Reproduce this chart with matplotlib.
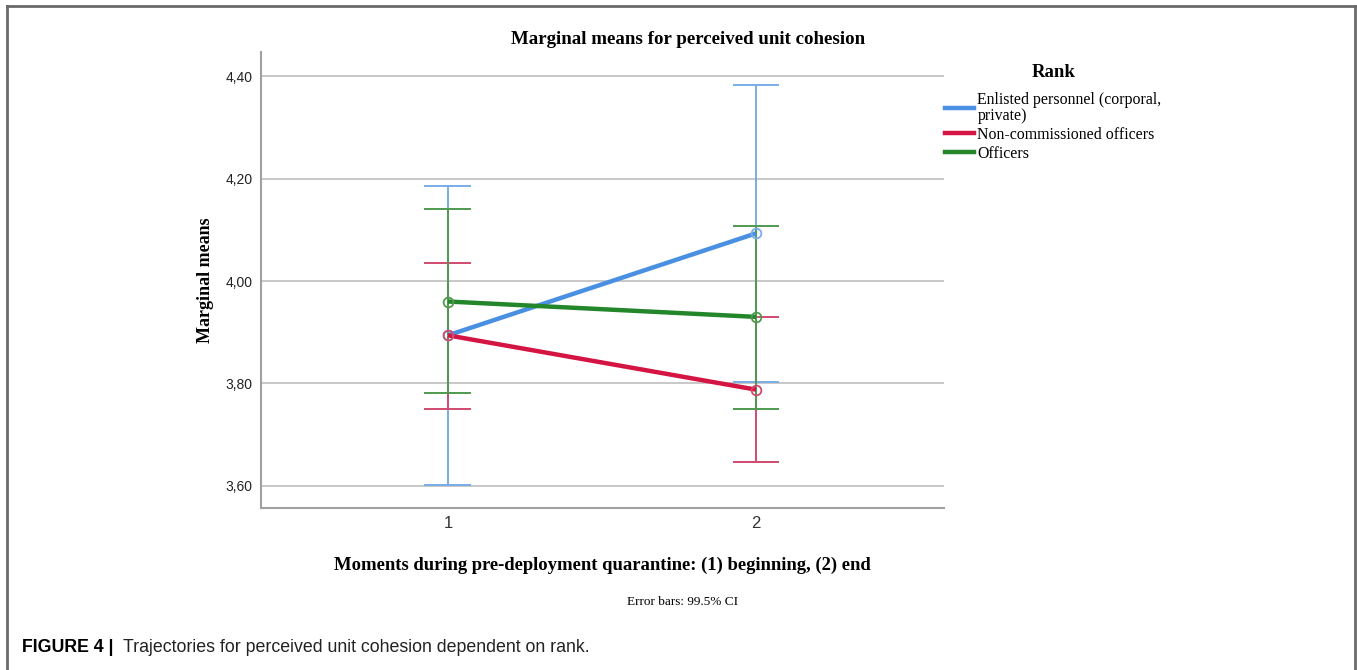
import matplotlib
matplotlib.use("Agg")
import matplotlib.pyplot as plt
from matplotlib.lines import Line2D

# data
moments = [1, 2]
groups = ["Enlisted personnel (corporal,\nprivate)", "Non-commissioned officers", "Officers"]
enlisted_mean = [3.894, 4.093]
enlisted_lo = [3.602, 3.803]
enlisted_hi = [4.186, 4.382]
nco_mean = [3.894, 3.788]
nco_lo = [3.751, 3.647]
nco_hi = [4.035, 3.929]
officers_mean = [3.960, 3.930]
officers_lo = [3.781, 3.751]
officers_hi = [4.140, 4.107]
yticks = [3.60, 3.80, 4.00, 4.20, 4.40]

line_cols = ["#4a90e2", "#d41443", "#23862a"]
bar_cols = ["#79ade6", "#cf4a6e", "#4f9a4f"]

fig = plt.figure(figsize=(13.57, 6.70), dpi=100)
ax = fig.add_axes([0.1923, 0.2418, 0.5033, 0.6806])

series = [(enlisted_mean, enlisted_lo, enlisted_hi),
          (nco_mean, nco_lo, nco_hi),
          (officers_mean, officers_lo, officers_hi)]

cap = 0.073
for i, (m, lo, hi) in enumerate(series):
    for x, l, h in zip(moments, lo, hi):
        ax.plot([x, x], [l, h], color=bar_cols[i], lw=1.4, zorder=2 + i * 0.1)
        ax.plot([x - cap, x + cap], [l, l], color=bar_cols[i], lw=1.4, zorder=2 + i * 0.1)
        ax.plot([x - cap, x + cap], [h, h], color=bar_cols[i], lw=1.4, zorder=2 + i * 0.1)
for i, (m, lo, hi) in enumerate(series):
    ax.plot(moments, m, color=line_cols[i], lw=3.2, zorder=4, solid_capstyle='butt')
    ax.plot(moments, m, 'o', ms=7, mfc='none', mec=bar_cols[i], mew=1.3, zorder=5)

ax.set_xlim(0.393, 2.61)
ax.set_ylim(3.557, 4.447)
ax.set_xticks(moments)
ax.set_xticklabels([str(v) for v in moments], fontsize=12, family='Liberation Sans', color='#333333')
ax.set_yticks(yticks)
ax.set_yticklabels([f"{v:.2f}".replace('.', ',') for v in yticks], fontsize=10,
                   family='Liberation Sans', color='#222222')
ax.tick_params(length=0, pad=6)
ax.tick_params(axis='x', pad=6)
ax.grid(axis='y', color='#c8c8c8', lw=1.4, zorder=0)
for s in ['top', 'right']:
    ax.spines[s].set_visible(False)
for s in ['left', 'bottom']:
    ax.spines[s].set_color('#a0a0a0')
    ax.spines[s].set_linewidth(1.5)

serif = 'Liberation Serif'
fig.text(688 / 1357, 1 - 40 / 670, "Marginal means for perceived unit cohesion", ha='center', va='center',
         family=serif, weight='bold', fontsize=13.6)
fig.text(205 / 1357, 1 - 280 / 670, "Marginal means", ha='center', va='center', rotation=90,
         family=serif, weight='bold', fontsize=13)
fig.text(602 / 1357, 1 - 565 / 670, "Moments during pre-deployment quarantine: (1) beginning, (2) end",
         ha='center', va='center', family=serif, weight='bold', fontsize=13.4)
fig.text(683 / 1357, 1 - 602 / 670, "Error bars: 99.5% CI", ha='center', va='center',
         family=serif, fontsize=9.5)

handles = [Line2D([], [], color=c, lw=3.2) for c in line_cols]
leg = ax.legend(handles, groups, loc='upper left', bbox_to_anchor=(945 / 1357, 1 - 64 / 670),
                bbox_transform=fig.transFigure, frameon=False, title="Rank",
                prop={'family': serif, 'size': 11.4}, handlelength=1.8, handletextpad=0.25,
                labelspacing=0.2, borderaxespad=0, borderpad=0)
leg.get_title().set_fontproperties({'family': serif, 'weight': 'bold', 'size': 13.5})
leg._legend_box.align = "center"
leg._legend_box.sep = 8
for t in leg.get_texts():
    t.set_linespacing(0.95)

# caption
fig.text(22 / 1357, 1 - 648 / 670, "FIGURE 4 |", ha='left', va='center', family='Liberation Sans',
         weight='bold', fontsize=12.8)
fig.text(123 / 1357, 1 - 648 / 670, "Trajectories for perceived unit cohesion dependent on rank.",
         ha='left', va='center', family='Liberation Sans', fontsize=12.8, color='#222222')

# frame around the figure panel (open at bottom)
frame = dict(transform=fig.transFigure, color='#6a6a6a', lw=2)
fig.add_artist(Line2D([7 / 1357, 7 / 1357], [0, 1 - 6 / 670], **frame))
fig.add_artist(Line2D([7 / 1357, 1355 / 1357], [1 - 6 / 670, 1 - 6 / 670], **frame))
fig.add_artist(Line2D([1355 / 1357, 1355 / 1357], [0, 1 - 6 / 670], **frame))

fig.savefig("out.png", dpi=100)
